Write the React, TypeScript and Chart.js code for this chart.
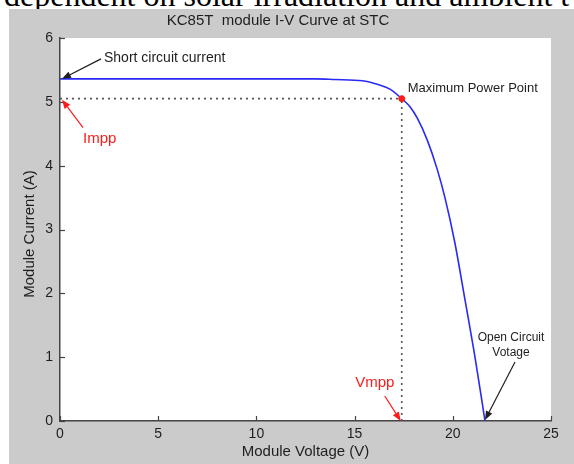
import React, { useEffect, useRef } from "react";
import { Chart, registerables } from "chart.js";
Chart.register(...registerables);

// I-V curve of KC85T module
const voltage = [0, 2, 4, 6, 8, 10, 12, 13, 14, 15.4, 16.2, 16.8, 17.4, 17.8, 18.2, 18.7, 19.2, 19.6, 20.1, 20.62, 21.13, 21.64];
const current = [5.36, 5.36, 5.36, 5.36, 5.36, 5.36, 5.36, 5.36, 5.35, 5.33, 5.27, 5.2, 5.05, 4.93, 4.74, 4.4, 3.95, 3.5, 2.8, 1.9, 1.0, 0];
const vmpp = 17.4;
const impp = 5.05;
const voc = 21.64;
const isc = 5.36;
const xTicks = [0, 5, 10, 15, 20, 25];
const yTicks = [0, 1, 2, 3, 4, 5, 6];

const titleText = "KC85T  module I-V Curve at STC";
const xTitle = "Module Voltage (V)";
const yTitle = "Module Current (A)";
const topText = "dependent on solar irradiation and ambient t";

const SANS = '"Liberation Sans", Arial, sans-serif';
const RED = "#ff1a1a";
const DARK = "#1e1e1e";

function arrow(ctx: CanvasRenderingContext2D, x1: number, y1: number, x2: number, y2: number, color: string) {
  const a = Math.atan2(y2 - y1, x2 - x1);
  const L = 9, W = 3.5;
  const bx = x2 - L * Math.cos(a), by = y2 - L * Math.sin(a);
  ctx.save();
  ctx.strokeStyle = color;
  ctx.fillStyle = color;
  ctx.lineWidth = 1.2;
  ctx.beginPath();
  ctx.moveTo(x1, y1);
  ctx.lineTo(bx, by);
  ctx.stroke();
  ctx.beginPath();
  ctx.moveTo(x2, y2);
  ctx.lineTo(bx + W * Math.sin(a), by - W * Math.cos(a));
  ctx.lineTo(bx - W * Math.sin(a), by + W * Math.cos(a));
  ctx.closePath();
  ctx.fill();
  ctx.restore();
}

const decor = {
  id: "decor",
  beforeDraw(chart: any) {
    const { ctx, chartArea } = chart;
    ctx.save();
    ctx.fillStyle = "#ffffff";
    ctx.fillRect(chartArea.left, chartArea.top, chartArea.right - chartArea.left, chartArea.bottom - chartArea.top);
    ctx.restore();
  },
  afterDraw(chart: any) {
    const { ctx, chartArea } = chart;
    const xs = chart.scales.x, ys = chart.scales.y;
    const px = (v: number) => xs.getPixelForValue(v);
    const py = (v: number) => ys.getPixelForValue(v);
    ctx.save();
    // inward ticks
    ctx.strokeStyle = "#444";
    ctx.lineWidth = 1.2;
    xTicks.forEach((t) => {
      const x = Math.round(px(t)) + 0.5;
      ctx.beginPath();
      ctx.moveTo(x, chartArea.bottom);
      ctx.lineTo(x, chartArea.bottom - 5);
      ctx.stroke();
    });
    yTicks.forEach((t) => {
      const y = Math.round(py(t)) + 0.5;
      ctx.beginPath();
      ctx.moveTo(chartArea.left, y);
      ctx.lineTo(chartArea.left + 5, y);
      ctx.stroke();
    });

    // titles
    ctx.fillStyle = DARK;
    ctx.textBaseline = "middle";
    ctx.textAlign = "center";
    ctx.font = `15px ${SANS}`;
    ctx.fillText(titleText, 269, 12);
    ctx.fillText(xTitle, (chartArea.left + chartArea.right) / 2, 443);
    ctx.save();
    ctx.translate(21, 225);
    ctx.rotate(-Math.PI / 2);
    ctx.fillText(yTitle, 0, 0);
    ctx.restore();

    // Short circuit current
    const sx = px(0) + 2, sy = py(isc);
    arrow(ctx, sx + 39, sy - 20, sx, sy, DARK);
    ctx.textAlign = "left";
    ctx.fillStyle = DARK;
    ctx.font = `14px ${SANS}`;
    ctx.fillText("Short circuit current", sx + 42, sy - 21);

    // Impp
    const ix = px(0) + 2, iy = py(impp) + 1;
    arrow(ctx, ix + 21, iy + 28, ix, iy, RED);
    ctx.fillStyle = RED;
    ctx.font = `15px ${SANS}`;
    ctx.fillText("Impp", ix + 21, iy + 39);

    // Maximum power point
    ctx.fillStyle = DARK;
    ctx.font = `13px ${SANS}`;
    ctx.fillText("Maximum Power Point", px(vmpp) + 6, py(impp) - 10);

    // Vmpp
    const vx = px(vmpp) - 1, vy = py(0);
    arrow(ctx, vx - 16, vy - 25, vx, vy, RED);
    ctx.fillStyle = RED;
    ctx.font = `15px ${SANS}`;
    ctx.textAlign = "center";
    ctx.fillText("Vmpp", vx - 26, vy - 38);

    // Open circuit voltage
    const ox = px(voc), oy = py(0) - 1;
    arrow(ctx, ox + 30, oy - 58, ox, oy, DARK);
    ctx.fillStyle = DARK;
    ctx.font = `12px ${SANS}`;
    ctx.fillText("Open Circuit", ox + 26, oy - 82);
    ctx.fillText("Votage", ox + 26, oy - 67);
    ctx.restore();
  },
};

export default function App() {
  const ref = useRef<HTMLCanvasElement | null>(null);
  useEffect(() => {
    if (!ref.current) return;
    const curve = voltage.map((v, i) => ({ x: v, y: current[i] }));
    const chart = new Chart(ref.current, {
      type: "line",
      data: {
        datasets: [
          {
            data: [{ x: vmpp, y: impp }],
            showLine: false,
            pointRadius: 3,
            pointBackgroundColor: RED,
            pointBorderColor: RED,
            pointBorderWidth: 1,
          },
          {
            data: curve,
            borderColor: "#2a2af5",
            borderWidth: 1.6,
            pointRadius: 0,
            cubicInterpolationMode: "monotone",
            fill: false,
          },
          {
            data: [{ x: 0, y: impp }, { x: vmpp, y: impp }],
            borderColor: "#555",
            borderWidth: 1.6,
            borderDash: [2, 4],
            pointRadius: 0,
          },
          {
            data: [{ x: vmpp, y: 0 }, { x: vmpp, y: impp }],
            borderColor: "#555",
            borderWidth: 1.6,
            borderDash: [2, 4],
            pointRadius: 0,
          },
        ],
      },
      options: {
        animation: false,
        responsive: false,
        devicePixelRatio: 1,
        layout: { padding: { left: 0, right: 23, top: 29, bottom: 0 } },
        plugins: { legend: { display: false }, tooltip: { enabled: false }, title: { display: false } },
        scales: {
          x: {
            type: "linear",
            min: 0,
            max: 25,
            afterBuildTicks: (s: any) => {
              s.ticks = xTicks.map((v) => ({ value: v }));
            },
            afterFit: (s: any) => {
              s.height = 43;
            },
            grid: { display: false, drawTicks: false },
            border: { display: true, color: "#444", width: 1.5 },
            ticks: {
              padding: 5,
              color: DARK,
              font: { family: SANS, size: 14 },
              maxRotation: 0,
              autoSkip: false,
            },
          },
          y: {
            type: "linear",
            min: 0,
            max: 6,
            afterBuildTicks: (s: any) => {
              s.ticks = yTicks.map((v) => ({ value: v }));
            },
            afterFit: (s: any) => {
              s.width = 51;
            },
            grid: { display: false, drawTicks: false },
            border: { display: true, color: "#444", width: 1.5 },
            ticks: {
              padding: 7,
              color: DARK,
              font: { family: SANS, size: 14 },
              autoSkip: false,
            },
          },
        },
      },
      plugins: [decor],
    } as any);
    return () => chart.destroy();
  }, []);

  return (
    <div style={{ position: "fixed", left: 0, top: 0, width: 574, height: 464, background: "#fff", overflow: "hidden" }}>
      <div
        style={{
          position: "absolute",
          left: 4,
          top: -21,
          whiteSpace: "nowrap",
          fontFamily: '"Liberation Serif", "Times New Roman", serif',
          fontSize: 32,
          lineHeight: "32px",
          color: "#000",
        }}
      >
        {topText}
      </div>
      <canvas
        ref={ref}
        width={565}
        height={455}
        style={{ position: "absolute", left: 9, top: 9, width: 565, height: 455, background: "#cbcbcb" }}
      />
    </div>
  );
}
